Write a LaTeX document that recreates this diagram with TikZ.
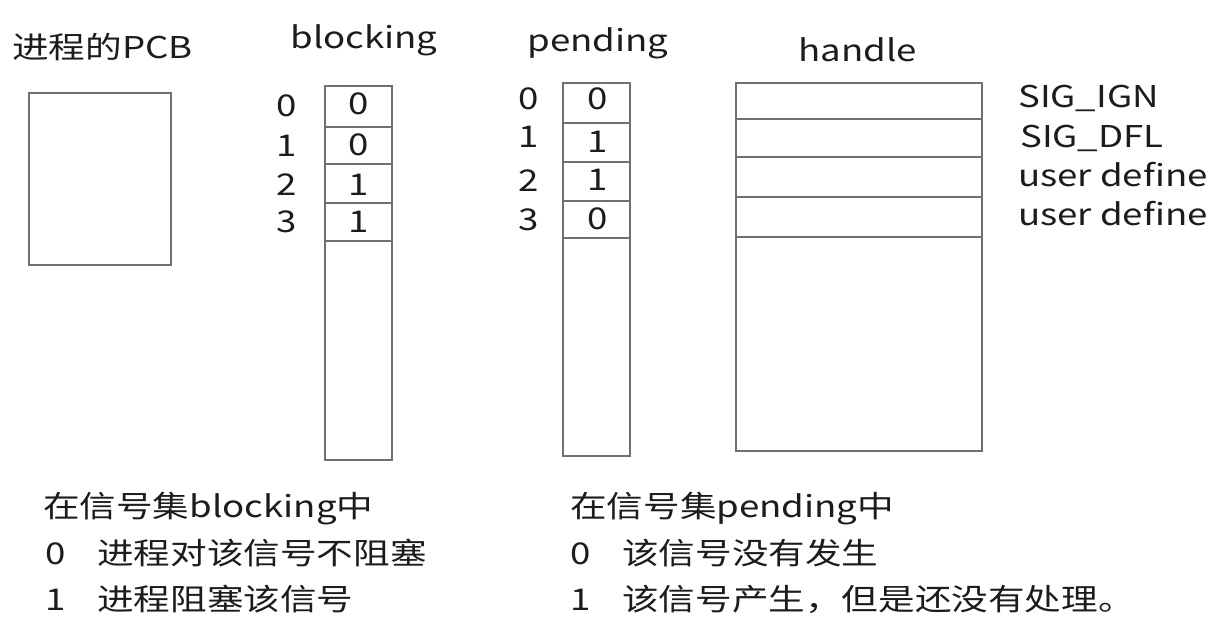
\documentclass[tikz,border=0pt]{standalone}
\usepackage{fontspec}
\setmainfont{Noto Sans CJK SC}[FakeStretch=1.22]
\usetikzlibrary{positioning}
\definecolor{LineGray}{HTML}{707070}
\definecolor{InkBlack}{HTML}{1C1C1C}

\begin{document}
\begin{tikzpicture}[x=1pt, y=-1pt,
    txt/.style={font=\fontsize{30}{36}\selectfont, text=InkBlack, inner sep=0pt},
    cellline/.style={draw=LineGray, line width=1.6pt}]
    \useasboundingbox (0,0) rectangle (1232,623);

    % PCB
    \node[txt, anchor=base west] (pcbtitle) at (12,59) {进程的PCB};
    \node[cellline, minimum width=142pt, minimum height=172pt, anchor=north west, inner sep=0pt] (pcb) at (28,92) {};

    % blocking column
    \node[txt, anchor=base] (blocktitle) at (364,49) {blocking};
    \draw[cellline] (325,86) rectangle (392,460);
    \foreach \y in {127,164,203,241}
        \draw[cellline] (325,\y) -- (392,\y);
    \foreach \i/\v/\yi/\yv in {0/0/117/115, 1/0/157/156, 2/1/195/196, 3/1/233/233} {
        \node[txt, anchor=base] (bidx\i) at (287,\yi) {\i};
        \node[txt, anchor=base] (bval\i) at (359,\yv) {\v};
    }

    % pending column
    \node[txt, anchor=base] (pendtitle) at (598,52) {pending};
    \draw[cellline] (563,83) rectangle (630,456);
    \foreach \y in {123,162,201,238}
        \draw[cellline] (563,\y) -- (630,\y);
    \foreach \i/\v/\yi/\yv in {0/0/110/110, 1/1/148/153, 2/1/191/190, 3/0/230/229} {
        \node[txt, anchor=base] (pidx\i) at (529,\yi) {\i};
        \node[txt, anchor=base] (pval\i) at (598,\yv) {\v};
    }

    % handle table
    \node[txt, anchor=base] (handtitle) at (858,62) {handle};
    \draw[cellline] (736,83) rectangle (982,451);
    \foreach \y in {119,157,197,237}
        \draw[cellline] (736,\y) -- (982,\y);
    \node[txt, anchor=base west] (hign) at (1018,108) {SIG\_IGN};
    \node[txt, anchor=base west] (hdfl) at (1020,148) {SIG\_DFL};
    \node[txt, anchor=base west] (huser1) at (1018,186) {user define};
    \node[txt, anchor=base west] (huser2) at (1018,225) {user define};

    % legends
    \node[txt, anchor=base west] (blocklegend) at (43,517) {在信号集blocking中};
    \node[txt, anchor=base west] (bzero) at (45,564) {0};
    \node[txt, anchor=base west] (bzerotext) at (97,564) {进程对该信号不阻塞};
    \node[txt, anchor=base west] (bone) at (45,610) {1};
    \node[txt, anchor=base west] (bonetext) at (97,610) {进程阻塞该信号};

    \node[txt, anchor=base west] (pendlegend) at (570,517) {在信号集pending中};
    \node[txt, anchor=base west] (pzero) at (570,564) {0};
    \node[txt, anchor=base west] (pzerotext) at (622,564) {该信号没有发生};
    \node[txt, anchor=base west] (pone) at (570,610) {1};
    \node[txt, anchor=base west] (ponetext) at (622,610) {该信号产生，但是还没有处理。};
\end{tikzpicture}
\end{document}
